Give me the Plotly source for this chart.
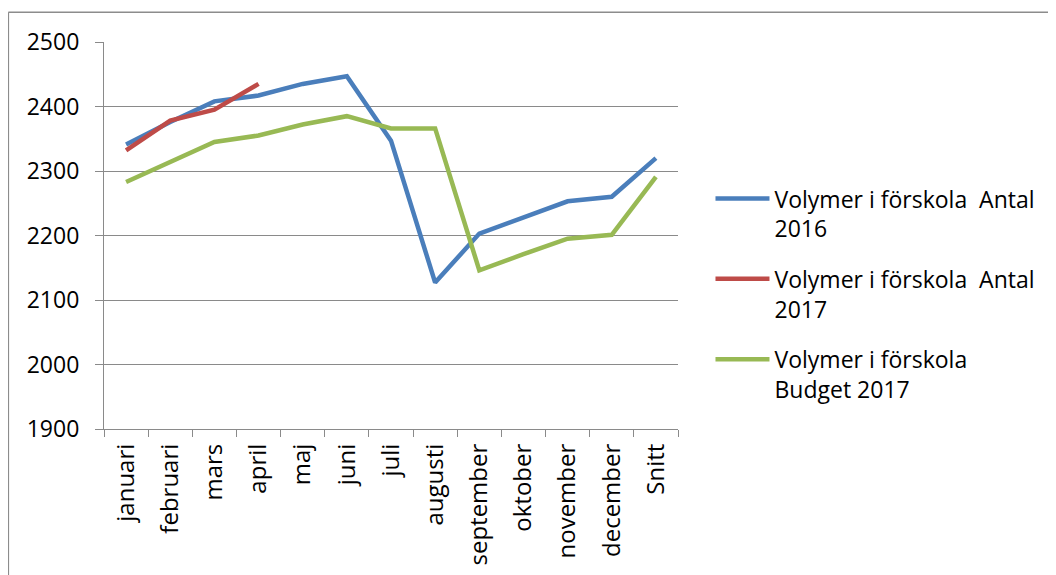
import plotly.graph_objects as go

categories = ["januari", "februari", "mars", "april", "maj", "juni", "juli",
              "augusti", "september", "oktober", "november", "december", "Snitt"]
antal_2016 = [2341, 2376, 2408, 2417, 2435, 2447, 2347, 2127, 2203, 2228, 2253, 2260, 2320]
antal_2017 = [2332, 2378, 2395, 2435]
budget_2017 = [2283, 2314, 2345, 2355, 2372, 2385, 2366, 2366, 2146, 2171, 2195, 2201, 2291]

names = ["Volymer i förskola  Antal<br>2016",
         "Volymer i förskola  Antal<br>2017",
         "Volymer i förskola<br>Budget 2017"]
colors = ["#4A7EBB", "#BE4B48", "#98B954"]

FONT = "Open Sans"
GRID = "#8a8a8a"

fig = go.Figure()
for i, (vals, nm, col) in enumerate(zip([antal_2016, antal_2017, budget_2017], names, colors)):
    fig.add_trace(go.Scatter(
        x=categories[:len(vals)], y=vals, mode="lines", name=nm,
        legendgroup=f"g{i}",
        line=dict(color=col, width=4.5, shape="linear"),
    ))

# page has an 8px body margin; work in figure coordinates (page - 8)
OFF = 8
L, R_px, T, B_px = 104.2 - OFF, 678.5 - OFF, 41.7 - OFF, 429.3 - OFF
W, H = 1056 - OFF, 575 - OFF
pw, ph = R_px - L, B_px - T

def px2paper_x(px):
    return (px - L) / pw

def px2paper_y(py):
    return (B_px - py) / ph

fig.update_layout(
    width=W, height=H,
    margin=dict(l=L, r=W - R_px, t=T, b=H - B_px, pad=0, autoexpand=False),
    paper_bgcolor="white", plot_bgcolor="white",
    font=dict(family=FONT, color="black"),
    showlegend=True,
    legend=dict(
        x=px2paper_x(703), y=px2paper_y(169), xanchor="left", yanchor="top",
        font=dict(family=FONT, size=23, color="black"),
        valign="top", tracegroupgap=17.5, itemwidth=54,
        bgcolor="rgba(0,0,0,0)", borderwidth=0,
    ),
    xaxis=dict(
        type="category", categoryorder="array", categoryarray=categories,
        range=[-0.5, len(categories) - 0.5], automargin=False,
        showgrid=False, showline=True, linecolor=GRID, linewidth=1.2,
        ticks="outside", tickson="boundaries", ticklen=7, tickcolor=GRID, tickwidth=1.2,
        tickangle=-90, tickfont=dict(family=FONT, size=24, color="black"),
        ticklabelstandoff=4, zeroline=False,
    ),
    yaxis=dict(
        range=[1900, 2500], dtick=100, tick0=1900, automargin=False,
        showgrid=True, gridcolor=GRID, gridwidth=1.2,
        showline=True, linecolor=GRID, linewidth=1.2,
        ticks="outside", ticklen=8, tickcolor=GRID, tickwidth=1.2,
        tickfont=dict(family=FONT, size=23, color="black"),
        ticklabelstandoff=11, zeroline=False,
    ),
    shapes=[
        dict(type="line", xref="paper", yref="paper",
             x0=px2paper_x(0.5), x1=px2paper_x(0.5), y0=px2paper_y(4), y1=px2paper_y(600),
             line=dict(color="#8c8c8c", width=1.5)),
        dict(type="line", xref="paper", yref="paper",
             x0=px2paper_x(0.5), x1=px2paper_x(1070), y0=px2paper_y(4), y1=px2paper_y(4),
             line=dict(color="#8c8c8c", width=1.5)),
    ],
)

fig.write_html("out.html")
